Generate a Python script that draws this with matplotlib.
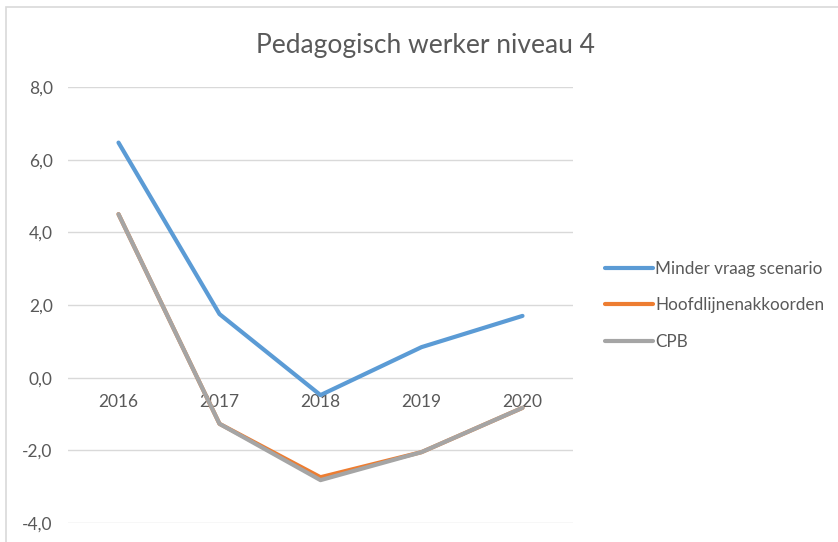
import numpy as np
import matplotlib.pyplot as plt

years = ["2016", "2017", "2018", "2019", "2020"]
minder_vraag = [6.47, 1.75, -0.48, 0.84, 1.70]
hoofdlijnen = [4.50, -1.27, -2.74, -2.05, -0.83]
cpb = [4.50, -1.27, -2.82, -2.05, -0.83]

TEXT = "#595959"
GRID = "#D9D9D9"

plt.rcParams["font.family"] = ["Lato", "DejaVu Sans"]

fig = plt.figure(figsize=(8.38, 5.42), dpi=100)
ax = fig.add_axes([68 / 838, 1 - 523 / 542, (573 - 68) / 838, (523 - 87) / 542])

x = np.arange(len(years))
ax.plot(x, minder_vraag, color="#5B9BD5", lw=3, label="Minder vraag scenario",
        solid_capstyle="round", solid_joinstyle="round")
ax.plot(x, hoofdlijnen, color="#ED7D31", lw=3, label="Hoofdlijnenakkoorden",
        solid_capstyle="round", solid_joinstyle="round")
ax.plot(x, cpb, color="#A5A5A5", lw=3, label="CPB",
        solid_capstyle="round", solid_joinstyle="round")

ax.set_xlim(-0.5, len(years) - 0.5)
ax.set_ylim(-4, 8)
ax.set_yticks(np.arange(-4, 9, 2))
ax.set_yticklabels([f"{v:.1f}".replace(".", ",") for v in np.arange(-4, 9, 2)])
ax.set_xticks(x)
ax.set_xticklabels(years)

for s in ["top", "right", "left"]:
    ax.spines[s].set_visible(False)
ax.spines["bottom"].set_position(("data", 0))
ax.spines["bottom"].set_visible(False)
ax.tick_params(axis="both", length=0, colors=TEXT, labelsize=12.5)
ax.tick_params(axis="y", pad=11)
ax.tick_params(axis="x", pad=12)
ax.grid(axis="y", color=GRID, lw=1)
ax.set_axisbelow(True)

fig.text(425 / 838, 1 - 45 / 542, "Pedagogisch werker niveau 4", ha="center",
         va="center", fontsize=19, color=TEXT)

leg = fig.legend(loc="center left", bbox_to_anchor=(590 / 838, 1 - 305 / 542),
                 frameon=False, fontsize=12.3, labelcolor=TEXT, handlelength=2.8,
                 handletextpad=0.1, labelspacing=1.2)

# outer chart border
fig.add_artist(plt.Rectangle((6 / 838, -0.1), 1, 1 - 7 / 542 + 0.1, fill=False,
                             edgecolor="#D9D9D9", lw=1.2, transform=fig.transFigure))

fig.savefig("out.png", dpi=100)
